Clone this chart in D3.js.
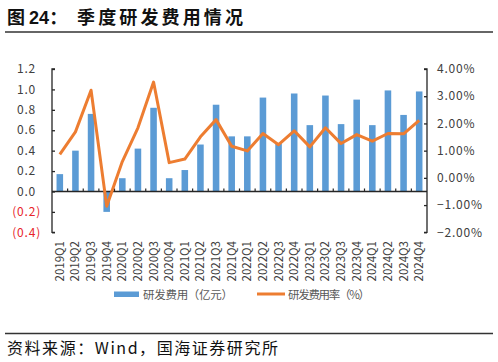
<!DOCTYPE html>
<html><head><meta charset="utf-8">
<script src="https://cdn.jsdelivr.net/npm/d3@7"></script>
<style>
html,body{margin:0;padding:0;background:#fff;}
svg{display:block;}
text{font-family:"Noto Sans CJK SC","Liberation Sans",Arial,sans-serif;}
</style></head>
<body>
<svg id="c" width="498" height="362"></svg>
<script>
const quarters = ["2019Q1","2019Q2","2019Q3","2019Q4","2020Q1","2020Q2","2020Q3","2020Q4",
  "2021Q1","2021Q2","2021Q3","2021Q4","2022Q1","2022Q2","2022Q3","2022Q4",
  "2023Q1","2023Q2","2023Q3","2023Q4","2024Q1","2024Q2","2024Q3","2024Q4"];
const rdExpense = [0.17,0.40,0.76,-0.20,0.13,0.42,0.82,0.13,
  0.21,0.46,0.85,0.54,0.54,0.92,0.47,0.96,
  0.65,0.94,0.66,0.90,0.65,0.99,0.75,0.98];
const rdRatio = [0.86,1.69,3.22,-1.04,0.60,1.84,3.52,0.56,
  0.69,1.51,2.14,1.16,0.99,1.63,1.22,1.73,
  1.14,1.84,1.26,1.59,1.35,1.63,1.62,2.11];
const leftTicks = [-0.4,-0.2,0,0.2,0.4,0.6,0.8,1.0,1.2];
const rightTicks = [-2,-1,0,1,2,3,4];
const seriesNames = ["研发费用（亿元）","研发费用率（%）"];
const titleText = "季度研发费用情况";
const sourceText = "资料来源：Wind，国海证券研究所";

const svg = d3.select("#c");
const blue = "#5B9BD5", orange = "#ED7D31", axisCol = "#262626", txt = "#404040";
const X0 = 52, X1 = 427, YT = 69, YB = 232.3;

// Title
const t = svg.append("text").attr("x",7).attr("y",24).attr("font-size",18).attr("font-weight",700).attr("fill","#111");
t.append("tspan").text("图 ");
t.append("tspan").attr("font-family","Liberation Sans, Arial, sans-serif").text("24");
t.append("tspan").text("：");
svg.append("text").attr("x",77).attr("y",24).attr("font-size",18).attr("font-weight",700).attr("fill","#111")
  .attr("textLength",166).attr("lengthAdjust","spacing").text(titleText);
svg.append("line").attr("x1",5).attr("x2",493).attr("y1",32).attr("y2",32).attr("stroke","#333").attr("stroke-width",1.3);
svg.append("line").attr("x1",5).attr("x2",493).attr("y1",333.5).attr("y2",333.5).attr("stroke","#333").attr("stroke-width",1.3);
svg.append("text").attr("x",7).attr("y",354).attr("font-size",16).attr("fill","#111")
  .attr("textLength",271).attr("lengthAdjust","spacing").text(sourceText);

const x = d3.scaleBand().domain(quarters).range([X0,X1]).paddingInner(0.58).paddingOuter(0.29);
const yL = d3.scaleLinear().domain([-0.4,1.2]).range([YB,YT]);
const yR = d3.scaleLinear().domain([-2,4]).range([YB,YT]);

// bars
svg.append("g").selectAll("rect").data(quarters).join("rect")
  .attr("x",d=>x(d)).attr("width",x.bandwidth())
  .attr("y",(d,i)=>yL(Math.max(0,rdExpense[i])))
  .attr("height",(d,i)=>Math.abs(yL(rdExpense[i])-yL(0)))
  .attr("fill",blue);

// left axis
const gl = svg.append("g").attr("transform",`translate(${X0},0)`)
  .call(d3.axisRight(yL).tickValues(leftTicks).tickSize(3).tickFormat(""));
gl.selectAll("path,line").attr("stroke",axisCol).attr("stroke-width",1.3);
gl.select(".domain").attr("d",`M3,${YT}H0V${YB}H3`);
svg.append("g").selectAll("text").data(leftTicks).join("text")
  .attr("x",d=>d<0?41:36).attr("y",d=>yL(d)).attr("dy","0.35em")
  .attr("text-anchor","end").attr("font-size",12).attr("letter-spacing",0.8)
  .attr("font-family","Liberation Sans, Arial, sans-serif")
  .attr("fill",d=>d<0?"#E8232A":txt)
  .text(d=>d<0?`(${d3.format(".1f")(-d)})`:d3.format(".1f")(d));

// right axis
const gr = svg.append("g").attr("transform",`translate(${X1},0)`)
  .call(d3.axisLeft(yR).tickValues(rightTicks).tickSize(3).tickFormat(""));
gr.selectAll("path,line").attr("stroke",axisCol).attr("stroke-width",1.3);
gr.select(".domain").attr("d",`M-3,${YT}H0V${YB}H-3`);
svg.append("g").selectAll("text").data(rightTicks).join("text")
  .attr("x",437).attr("y",d=>yR(d)).attr("dy","0.35em")
  .attr("font-size",12).attr("letter-spacing",0.8)
  .attr("font-family","Liberation Sans, Arial, sans-serif")
  .attr("fill",txt)
  .text(d=>(d<0?"−":"")+d3.format(".2f")(Math.abs(d))+"%");

// zero line with category ticks
const gx = svg.append("g").attr("transform",`translate(0,${yL(0)})`)
  .call(d3.axisTop(x).tickSize(0).tickFormat(""));
gx.select(".domain").attr("stroke",axisCol).attr("stroke-width",1.3).attr("d",`M${X0},0H${X1}`);
svg.append("g").selectAll("line").data(quarters.slice(1)).join("line")
  .attr("x1",d=>x(d)-x.step()*x.paddingInner()/2).attr("x2",d=>x(d)-x.step()*x.paddingInner()/2)
  .attr("y1",yL(0)).attr("y2",yL(0)-3).attr("stroke",axisCol).attr("stroke-width",1.2);

// category labels
svg.append("g").selectAll("text").data(quarters).join("text")
  .attr("transform",d=>`translate(${x(d)+x.bandwidth()/2+4},241) rotate(-90)`)
  .attr("text-anchor","end").attr("font-size",11.5)
  .attr("font-family","Liberation Sans, Arial, sans-serif")
  .attr("fill",txt).text(d=>d);

// line
const line = d3.line().x((d,i)=>x(quarters[i])+x.bandwidth()/2).y(d=>yR(d));
svg.append("path").datum(rdRatio).attr("d",line).attr("fill","none")
  .attr("stroke",orange).attr("stroke-width",3).attr("stroke-linejoin","round");

// legend
svg.append("rect").attr("x",114).attr("y",291.5).attr("width",25).attr("height",5.5).attr("fill",blue);
svg.append("text").attr("x",143).attr("y",298.5).attr("font-size",11.5).attr("fill","#595959")
  .attr("textLength",90).attr("lengthAdjust","spacing").text(seriesNames[0]);
svg.append("line").attr("x1",257).attr("x2",285).attr("y1",294).attr("y2",294).attr("stroke",orange).attr("stroke-width",3);
svg.append("text").attr("x",288).attr("y",298.5).attr("font-size",11.5).attr("fill","#595959")
  .attr("textLength",82).attr("lengthAdjust","spacing").text(seriesNames[1]);
</script>
</body></html>
